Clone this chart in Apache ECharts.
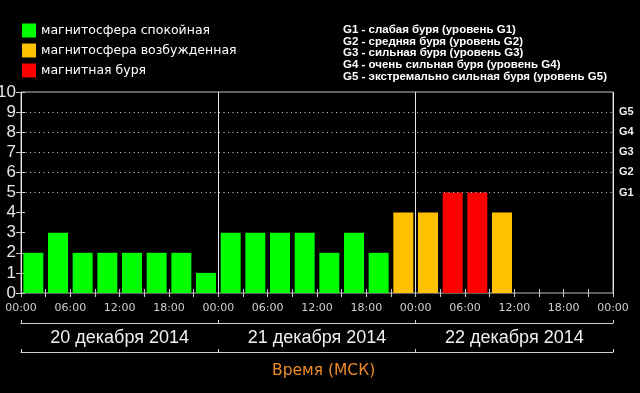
<!DOCTYPE html>
<html>
<head>
<meta charset="utf-8">
<script src="https://cdn.jsdelivr.net/npm/echarts@6/dist/echarts.min.js"></script>
<style>
html,body{margin:0;padding:0;background:#000;}
#chart{width:640px;height:393px;}
</style>
</head>
<body>
<div id="chart"></div>
<script>
// ---- data ----
const days = ['20 декабря 2014', '21 декабря 2014', '22 декабря 2014'];
const slotHours = ['00:00', '03:00', '06:00', '09:00', '12:00', '15:00', '18:00', '21:00'];
const kpValues = [2, 3, 2, 2, 2, 2, 2, 1,
                  3, 3, 3, 3, 2, 3, 2, 4,
                  4, 5, 5, 4, null, null, null, null];
const timeTickLabels = ['00:00', '06:00', '12:00', '18:00', '00:00', '06:00', '12:00', '18:00', '00:00', '06:00', '12:00', '18:00', '00:00'];
const yTickLabels = ['0', '1', '2', '3', '4', '5', '6', '7', '8', '9', '10'];
const stormLabels = ['G1', 'G2', 'G3', 'G4', 'G5'];
const stormKp = [5, 6, 7, 8, 9];
const stateNames = ['магнитосфера спокойная', 'магнитосфера возбужденная', 'магнитная буря'];
const stateColors = ['#00ff00', '#ffc000', '#ff0000'];
const stormDescriptions = [
  'G1 - слабая буря (уровень G1)',
  'G2 - средняя буря (уровень G2)',
  'G3 - сильная буря (уровень G3)',
  'G4 - очень сильная буря (уровень G4)',
  'G5 - экстремально сильная буря (уровень G5)'
];
const axisTitle = 'Время (МСК)';

// ---- build ----
const slots = [];
days.forEach(d => slotHours.forEach(h => slots.push(d + ' ' + h)));
function stateOf(v) { return v >= 5 ? 2 : (v >= 4 ? 1 : 0); }

const series = stateNames.map((name, si) => ({
  name: name,
  type: 'bar',
  xAxisIndex: 0,
  yAxisIndex: 0,
  barWidth: 20,
  barGap: '-100%',
  itemStyle: { color: stateColors[si] },
  data: kpValues.map(v => (v != null && stateOf(v) === si) ? v : null),
  z: 3
}));
series[0].markLine = {
  silent: true,
  symbol: 'none',
  label: { show: false },
  lineStyle: { color: '#cfcfcf', type: [1, 3.5], width: 1 },
  data: stormKp.map(k => ({ yAxis: k })),
  z: 4
};

const chart = echarts.init(document.getElementById('chart'), null, { renderer: 'canvas' });
const GRID = { left: 21, right: 27, top: 92, bottom: 100 };
chart.setOption({
  backgroundColor: '#000',
  animation: false,
  title: [
    {
      text: stormDescriptions.join('\n'),
      left: 343, top: 23.5, padding: 0,
      textStyle: { color: '#fff', fontSize: 11.5, fontWeight: 'bold', fontFamily: 'Liberation Sans', lineHeight: 11.9 }
    },
    {
      text: axisTitle,
      left: 272, top: 363, padding: 0,
      textStyle: { color: '#ec8a2a', fontSize: 15.5, fontWeight: 'normal', fontFamily: 'DejaVu Sans' }
    }
  ],
  legend: {
    data: stateNames,
    orient: 'vertical',
    left: 22, top: 23.5, padding: 0,
    itemWidth: 14, itemHeight: 14, itemGap: 6,
    icon: 'rect',
    textStyle: { color: '#fff', fontSize: 12.5, fontFamily: 'DejaVu Sans' },
    selectedMode: false
  },
  grid: Object.assign({ show: true, borderColor: '#bdbdbd', borderWidth: 1, backgroundColor: 'transparent',
    containLabel: false, outerBoundsMode: 'none' }, GRID),
  xAxis: [
    { type: 'category', data: slots, position: 'bottom', boundaryGap: true,
      axisLine: { show: false }, axisLabel: { show: false },
      axisTick: { show: true, inside: true, length: 4, interval: 0, lineStyle: { color: '#ccc' } },
      splitLine: { show: false } },
    { type: 'category', data: slots, position: 'top', boundaryGap: true,
      axisLine: { show: false }, axisLabel: { show: false },
      axisTick: { show: true, inside: true, length: 4, interval: 0, lineStyle: { color: '#ccc' } },
      splitLine: { show: false } },
    { type: 'value', min: 0, max: 72, interval: 6, position: 'bottom',
      axisLine: { show: false }, axisTick: { show: false }, splitLine: { show: false },
      axisLabel: { color: '#d0d0d0', fontSize: 11, fontFamily: 'DejaVu Sans', margin: 10,
        formatter: v => timeTickLabels[Math.round(v / 6)] } },
    { type: 'value', min: 0, max: 72, interval: 24, position: 'bottom',
      axisLine: { show: false }, axisTick: { show: false }, axisLabel: { show: false },
      splitLine: { show: true, lineStyle: { color: '#e8e8e8', width: 1, type: 'solid' } } },
    { type: 'category', data: days, position: 'bottom', offset: 30, boundaryGap: true,
      axisLine: { show: true, lineStyle: { color: '#cfcfcf', width: 1 } },
      axisTick: { show: true, inside: true, length: 3, interval: 0, lineStyle: { color: '#cfcfcf' } },
      axisLabel: { color: '#f0f0f0', fontSize: 18, fontFamily: 'Liberation Sans', margin: 6, interval: 0 },
      splitLine: { show: false } },
    { type: 'category', data: days, position: 'bottom', offset: 59, boundaryGap: true,
      axisLine: { show: true, lineStyle: { color: '#cfcfcf', width: 1 } },
      axisTick: { show: true, inside: true, length: 3, interval: 0, lineStyle: { color: '#cfcfcf' } },
      axisLabel: { show: false }, splitLine: { show: false } }
  ],
  yAxis: [
    { type: 'value', min: 0, max: 10, interval: 1, position: 'left',
      axisLine: { show: false },
      axisTick: { show: true, inside: true, length: 4, lineStyle: { color: '#ccc' } },
      axisLabel: { color: '#e6e6e6', fontSize: 17, fontFamily: 'Liberation Sans', margin: 5,
        formatter: v => yTickLabels[v] },
      splitLine: { show: false } },
    { type: 'value', min: 0, max: 10, interval: 1, position: 'right',
      axisLine: { show: false },
      axisTick: { show: true, inside: true, length: 5, lineStyle: { color: '#ccc' } },
      axisLabel: { color: '#f0f0f0', fontSize: 11, fontWeight: 'bold', fontFamily: 'Liberation Sans', margin: 6,
        formatter: v => { const i = stormKp.indexOf(v); return i >= 0 ? stormLabels[i] : ''; } },
      splitLine: { show: false } }
  ],
  series: series
});
</script>
</body>
</html>
